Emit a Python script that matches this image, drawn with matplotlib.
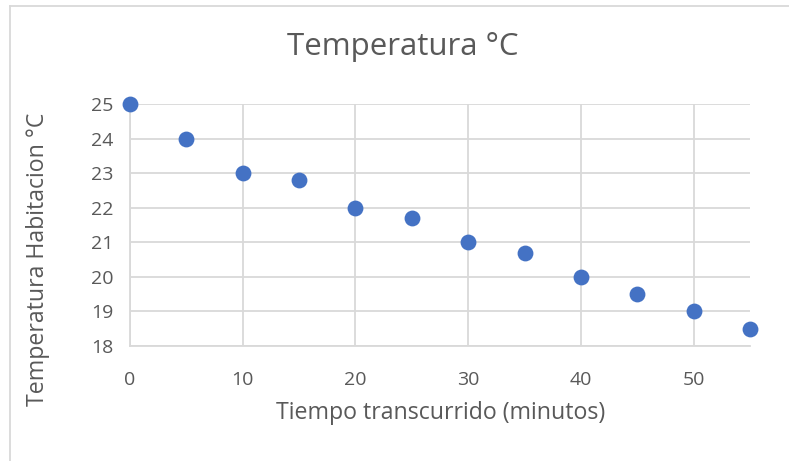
import matplotlib.pyplot as plt
from matplotlib.lines import Line2D

# Room temperature readings
tiempo = [0, 5, 10, 15, 20, 25, 30, 35, 40, 45, 50, 55]
temperatura = [25, 24, 23, 22.8, 22, 21.7, 21, 20.7, 20, 19.5, 19, 18.5]
x_ticks = [0, 10, 20, 30, 40, 50]
y_ticks = [18, 19, 20, 21, 22, 23, 24, 25]

text_color = '#595959'
grid_color = '#d9d9d9'
point_color = '#4472C4'

plt.rcParams['font.family'] = ['Open Sans', 'DejaVu Sans']


def main():
    fig = plt.figure(figsize=(7.89, 4.61), dpi=100)
    ax = fig.add_axes([130 / 789, 1 - 346 / 461, 620 / 789, 242 / 461])

    ax.scatter(tiempo, temperatura, s=130, color=point_color, zorder=3,
               clip_on=False, linewidths=0)

    ax.set_xlim(0, 55)
    ax.set_ylim(18, 25)
    ax.set_xticks(x_ticks)
    ax.set_yticks(y_ticks)
    ax.grid(True, color=grid_color, linewidth=1.3)
    ax.set_axisbelow(True)

    for side in ['top', 'right']:
        ax.spines[side].set_visible(False)
    for side in ['left', 'bottom']:
        ax.spines[side].set_color(grid_color)
        ax.spines[side].set_linewidth(1.3)

    ax.tick_params(length=0, labelsize=14, colors=text_color, pad=12)
    ax.tick_params(axis='x', pad=18)

    fig.text(441 / 789, 1 - 413 / 461, 'Tiempo transcurrido (minutos)',
             fontsize=16.7, color=text_color, ha='center', va='center')
    fig.text(38 / 789, 1 - 259 / 461, 'Temperatura Habitacion °C',
             fontsize=16.7, color=text_color, ha='center', va='center',
             rotation=90)
    fig.text(0.51, 1 - 47 / 461, 'Temperatura °C', fontsize=22.5,
             color=text_color, ha='center', va='center')

    # chart frame
    fig.add_artist(Line2D([10 / 789, 10 / 789], [0, 1 - 6 / 461],
                          transform=fig.transFigure, color=grid_color, lw=1.3))
    fig.add_artist(Line2D([10 / 789, 1], [1 - 6 / 461, 1 - 6 / 461],
                          transform=fig.transFigure, color=grid_color, lw=1.3))

    fig.savefig('out.png', dpi=100)


if __name__ == "__main__":
    main()
